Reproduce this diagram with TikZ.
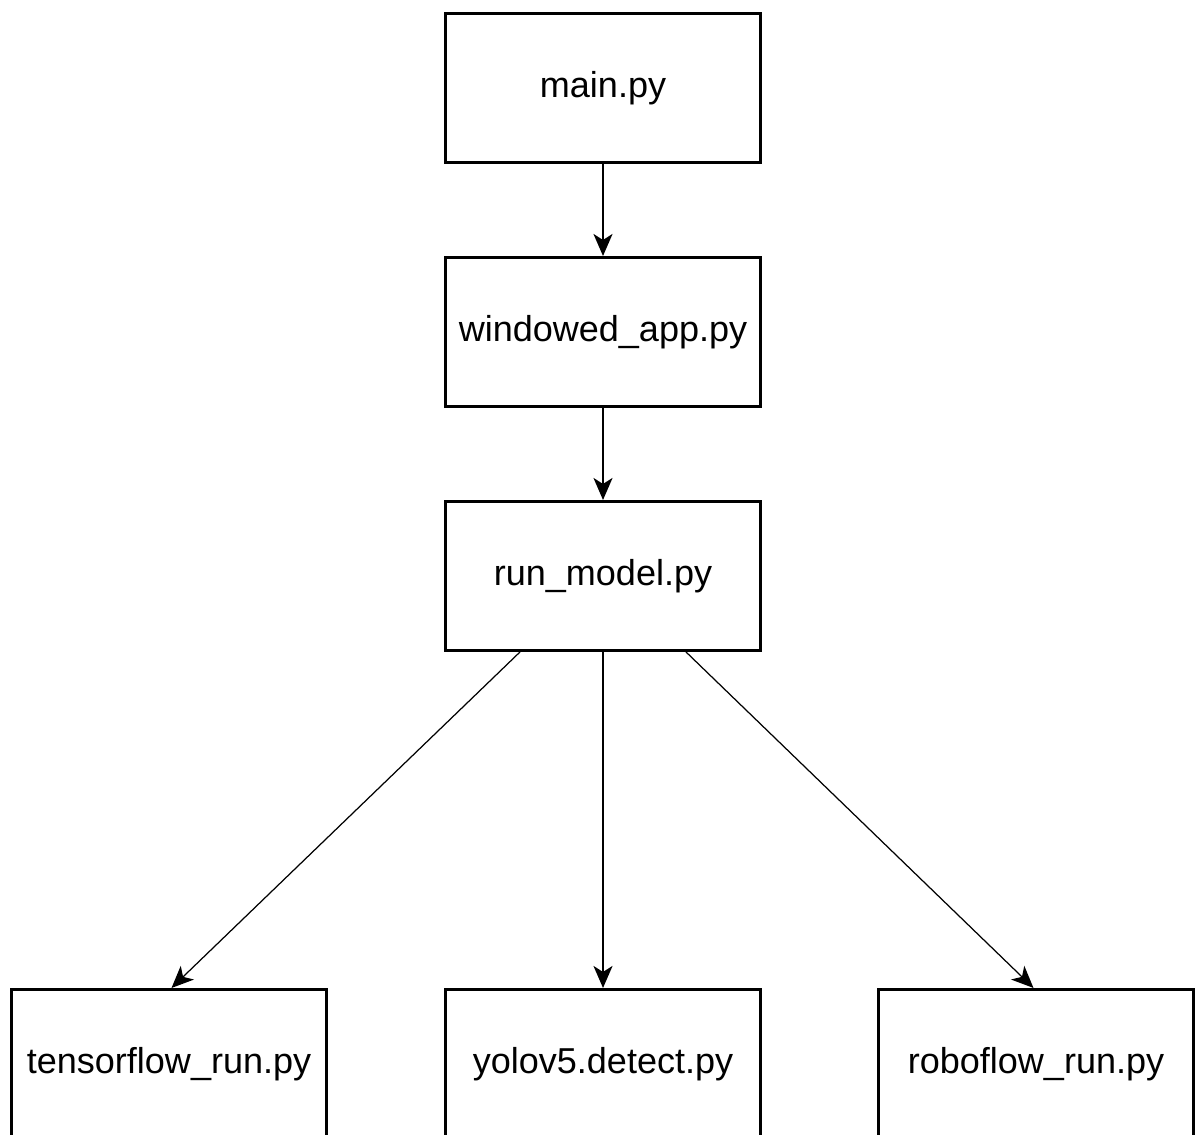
\documentclass[tikz,border=0pt]{standalone}
\usepackage{fontspec}
\setmainfont{Liberation Sans}
\usetikzlibrary{arrows.meta,positioning}

\begin{document}
\begin{tikzpicture}[
  node distance=1.84cm and 2.31cm,
  box/.style={draw, line width=1.7pt, minimum width=6.3cm, minimum height=2.98cm, align=center, font=\fontsize{20.5}{24}\selectfont},
  arr/.style={-{Stealth[length=0.44cm, width=0.38cm, inset=0.12cm]}, line width=1.15pt},
  diag/.style={arr, line width=0.7pt}
]
  \useasboundingbox (0,0) rectangle (23.96,-22.7);
  \node[box] (main) at (12.06,-1.76) {main.py};
  \node[box, below=of main] (app) {windowed\_app.py};
  \node[box, below=of app] (run) {run\_model.py};
  \node[box, below=6.72cm of run] (yolo) {yolov5.detect.py};
  \node[box, left=2.32cm of yolo] (tf) {tensorflow\_run.py};
  \node[box, right=2.30cm of yolo] (robo) {roboflow\_run.py};
  \draw[arr] (main) -- (app);
  \draw[arr] (app) -- (run);
  \draw[arr] (run) -- (yolo);
  \draw[diag] ([xshift=-1.66cm]run.south) -- ([xshift=0.05cm]tf.north);
  \draw[diag] ([xshift=1.66cm]run.south) -- ([xshift=-0.05cm]robo.north);
\end{tikzpicture}
\end{document}
